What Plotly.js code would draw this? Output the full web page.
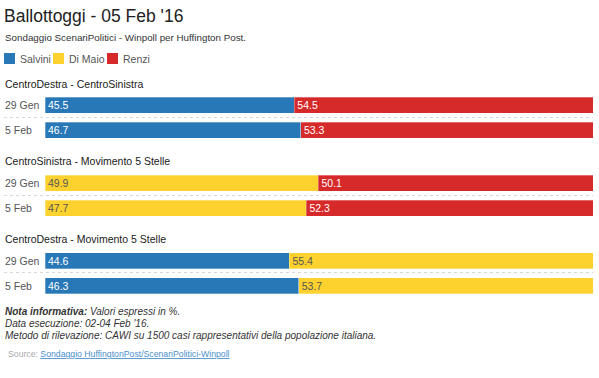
<!DOCTYPE html>
<html>
<head>
<meta charset="utf-8">
<script src="https://cdn.plot.ly/plotly-3.0.1.min.js"></script>
<style>html,body{margin:0;padding:0;background:#fff;}#chart{width:599px;height:378px;}</style>
</head>
<body>
<div id="chart"></div>
<script>
// ---- data ----
const rows = ["29 Gen", "5 Feb"];
const groupTitles = [
  "CentroDestra - CentroSinistra",
  "CentroSinistra - Movimento 5 Stelle",
  "CentroDestra - Movimento 5 Stelle"
];
const seriesNames = ["Salvini", "Di Maio", "Renzi"];
const seriesColors = {"Salvini": "#2878b8", "Di Maio": "#fdd22e", "Renzi": "#d62a2a"};
const seriesText = {"Salvini": "#ffffff", "Di Maio": "#555555", "Renzi": "#ffffff"};
// group 1: Salvini vs Renzi
const g1Salvini = [45.5, 46.7];
const g1Renzi = [54.5, 53.3];
// group 2: Di Maio vs Renzi
const g2DiMaio = [49.9, 47.7];
const g2Renzi = [50.1, 52.3];
// group 3: Salvini vs Di Maio
const g3Salvini = [44.6, 46.3];
const g3DiMaio = [55.4, 53.7];

const groups = [
  [["Salvini", g1Salvini], ["Renzi", g1Renzi]],
  [["Di Maio", g2DiMaio], ["Renzi", g2Renzi]],
  [["Salvini", g3Salvini], ["Di Maio", g3DiMaio]]
];
const noteLines = [
  "<b>Nota informativa:</b> Valori espressi in %.",
  "Data esecuzione: 02-04 Feb '16.",
  "Metodo di rilevazione: CAWI su 1500 casi rappresentativi della popolazione italiana."
];

// ---- layout helpers ----
const W = 599, H = 378, ML = 45, MR = 6;
const PW = W - ML - MR;
const py = p => 1 - p / H;          // pixel y -> paper y
const px = p => (p - ML) / PW;      // pixel x -> paper x
const FONT = "Liberation Sans, Arial, Helvetica, sans-serif";

const domains = [[92.5, 142.5], [170.5, 220.5], [248, 298]];
const titleY = [84, 161, 239];
const sepY = [117.5, 195.5, 272.5];
const noteY = [311, 323, 335];
const legendX = [4, 53, 107];

const traces = [];
groups.forEach((g, gi) => {
  const yname = gi === 0 ? "y" : "y" + (gi + 1);
  g.forEach(([name, vals]) => {
    traces.push({
      type: "bar", orientation: "h",
      name: name, legendgroup: name, showlegend: false,
      x: vals, y: rows, yaxis: yname, xaxis: "x",
      marker: {color: seriesColors[name], line: {color: "rgba(255,255,255,0.5)", width: 0.6}},
      text: vals.map(v => v.toFixed(1)),
      textposition: "inside", insidetextanchor: "start", textangle: 0,
      constraintext: "none",
      textfont: {family: FONT, size: 10.5, color: seriesText[name]},
      hoverinfo: "skip"
    });
  });
});

const layout = {
  width: W, height: H,
  margin: {l: ML, r: MR, t: 0, b: 0},
  paper_bgcolor: "#fff", plot_bgcolor: "#fff",
  barmode: "stack", bargap: 0.36,
  font: {family: FONT, color: "#333"},
  title: {text: "Ballottoggi - 05 Feb '16", x: 4 / W, xanchor: "left", xref: "container",
          y: 1 - 16 / H, yanchor: "middle", yref: "container",
          font: {family: FONT, size: 17.5, color: "#222"}},
  showlegend: false,
  xaxis: {range: [0, 100], visible: false, fixedrange: true},
  annotations: [],
  shapes: []
};
domains.forEach((d, gi) => {
  const key = gi === 0 ? "yaxis" : "yaxis" + (gi + 1);
  layout[key] = {domain: [py(d[1]), py(d[0])], type: "category", categoryarray: rows,
                 categoryorder: "array", autorange: "reversed", showticklabels: false,
                 showgrid: false, zeroline: false, fixedrange: true};
});

// legend (drawn from the series names and colours)
seriesNames.forEach((n, i) => {
  const x0 = legendX[i];
  layout.shapes.push({type: "rect", xref: "paper", yref: "paper",
    x0: px(x0), x1: px(x0 + 11), y0: py(64), y1: py(53),
    fillcolor: seriesColors[n], line: {width: 0}});
  layout.annotations.push({text: n, xref: "paper", yref: "paper", x: px(x0 + 14), y: py(58.5),
    xanchor: "left", yanchor: "middle", showarrow: false,
    font: {family: FONT, size: 10.5, color: "#555"}});
});

groupTitles.forEach((t, gi) => {
  layout.annotations.push({text: t, xref: "paper", yref: "paper", x: px(3), y: py(titleY[gi]),
    xanchor: "left", yanchor: "middle", showarrow: false,
    font: {family: FONT, size: 10.5, color: "#1a1a1a"}});
  const yname = gi === 0 ? "y" : "y" + (gi + 1);
  rows.forEach(r => {
    layout.annotations.push({text: r, xref: "paper", yref: yname, x: px(3), y: r,
      xanchor: "left", yanchor: "middle", showarrow: false,
      font: {family: FONT, size: 10.5, color: "#555"}});
  });
  layout.shapes.push({type: "line", xref: "paper", yref: "paper", x0: px(4), x1: 1,
    y0: py(sepY[gi]), y1: py(sepY[gi]), line: {color: "#d8d8d8", width: 1, dash: "dot"}});
});

layout.annotations.push({
  text: "Sondaggio ScenariPolitici - Winpoll per Huffington Post.",
  xref: "paper", yref: "paper", x: px(3), y: py(37), xanchor: "left", yanchor: "middle",
  showarrow: false, font: {family: FONT, size: 9.8, color: "#333"}
});
noteLines.forEach((t, i) => {
  layout.annotations.push({
    text: t, xref: "paper", yref: "paper", x: px(3), y: py(noteY[i]),
    xanchor: "left", yanchor: "middle", showarrow: false,
    font: {family: FONT, size: 10, color: "#333", style: "italic"}
  });
});
layout.annotations.push({
  text: "Source: <span style=\"color:#4a8fcc;text-decoration:underline\">Sondaggio HuffingtonPost/ScenariPolitici-Winpoll</span>",
  xref: "paper", yref: "paper", x: px(6), y: py(354), xanchor: "left", yanchor: "middle",
  showarrow: false, font: {family: FONT, size: 8.7, color: "#aaa"}
});

Plotly.newPlot("chart", traces, layout, {staticPlot: true, displayModeBar: false});
</script>
</body>
</html>
